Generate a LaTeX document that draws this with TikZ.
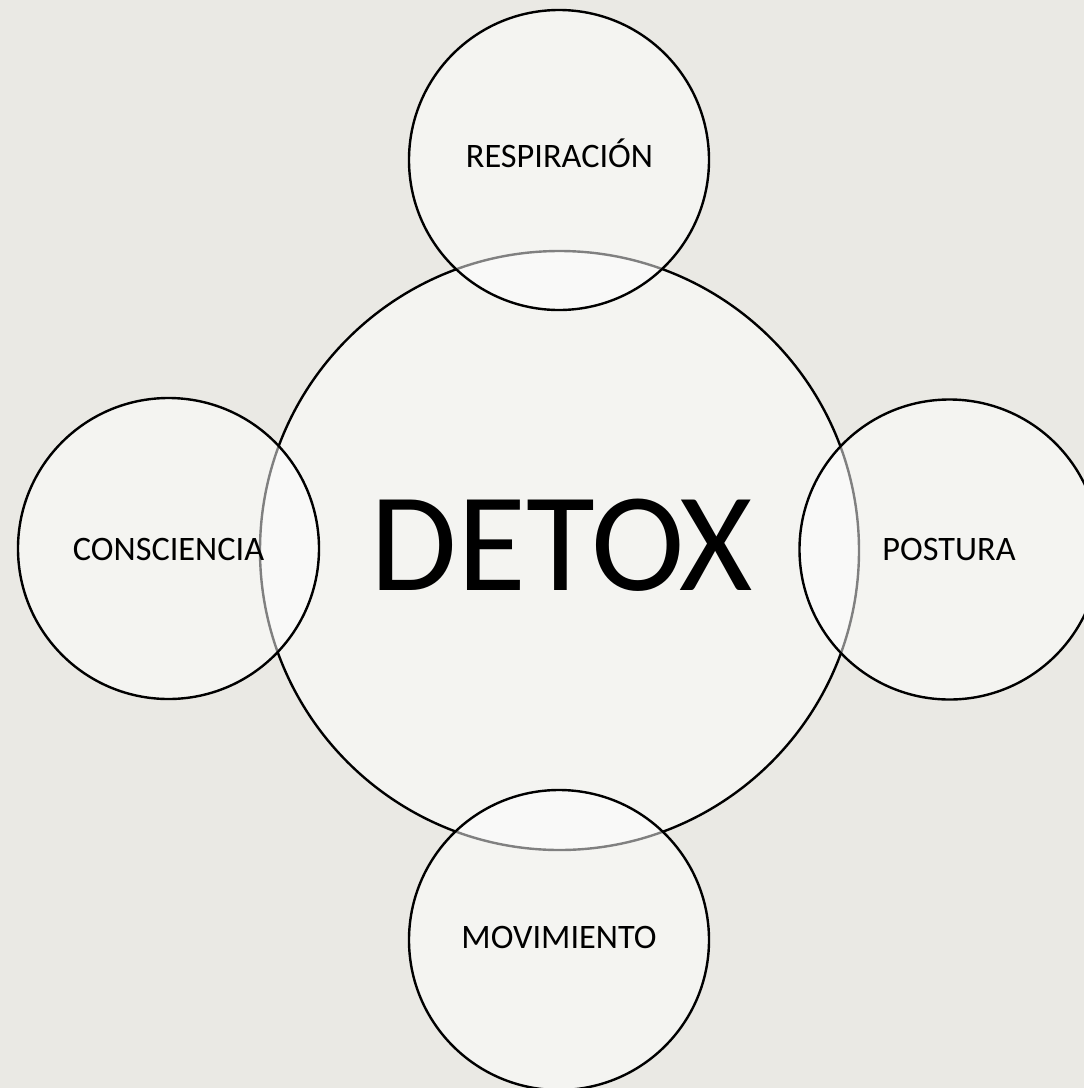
\documentclass[tikz,border=0pt]{standalone}
\usepackage{fontspec}
\setmainfont{Carlito}
\definecolor{bgcol}{HTML}{EAE9E4}
\begin{document}
\begin{tikzpicture}[x=1pt,y=-1pt,
  bubble/.style={circle,draw=black,line width=2.4pt,fill=white,fill opacity=0.5,text opacity=1,inner sep=0pt},
  lbl/.style={anchor=base,font=\fontsize{34.3}{34.3}\selectfont,inner sep=0pt}]
\fill[bgcol] (0,0) rectangle (1084,1088);
\useasboundingbox (0,0) rectangle (1084,1088);
\clip (0,0) rectangle (1084,1088);
\node[bubble,minimum size=599pt] (c) at (559.5,550.5) {};
\node[bubble,minimum size=300pt] (t) at (559,160) {};
\node[bubble,minimum size=301pt] (l) at (168.5,548.5) {};
\node[bubble,minimum size=300pt] (r) at (949.5,549.5) {};
\node[bubble,minimum size=300pt] (b) at (559,940) {};
\node[lbl,font=\fontsize{141}{141}\selectfont] (dt) at (562,590) {DETOX};
\node[lbl] (tr) at (559.5,167.5) {RESPIRACIÓN};
\node[lbl] (tl) at (168.5,560) {CONSCIENCIA};
\node[lbl] (tp) at (949,560) {POSTURA};
\node[lbl] (tm) at (559,948) {MOVIMIENTO};
\end{tikzpicture}
\end{document}
